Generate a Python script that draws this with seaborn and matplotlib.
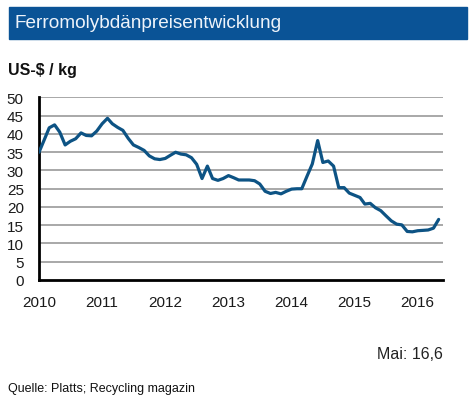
import pandas as pd
import seaborn as sns
import matplotlib.pyplot as plt
from matplotlib.patches import Rectangle

# monthly ferromolybdenum price, US-$/kg, Jan 2010 - May 2016
price_2010 = [35.0, 38.5, 41.7, 42.5, 40.5, 37.0, 38.0, 38.7, 40.3, 39.6, 39.5, 40.8]
price_2011 = [42.8, 44.3, 42.8, 41.8, 41.0, 38.8, 37.0, 36.3, 35.5, 34.0, 33.2, 33.0]
price_2012 = [33.3, 34.2, 35.0, 34.5, 34.3, 33.5, 31.7, 27.8, 31.2, 27.8, 27.3, 27.8]
price_2013 = [28.6, 28.0, 27.4, 27.4, 27.4, 27.2, 26.3, 24.3, 23.7, 24.0, 23.6, 24.3]
price_2014 = [24.9, 25.0, 25.0, 28.5, 31.8, 38.2, 32.2, 32.6, 31.2, 25.3, 25.3, 23.8]
price_2015 = [23.2, 22.6, 20.8, 21.0, 19.8, 19.0, 17.6, 16.2, 15.3, 15.1, 13.3, 13.2]
price_2016 = [13.5, 13.6, 13.7, 14.2, 16.6]

prices = price_2010 + price_2011 + price_2012 + price_2013 + price_2014 + price_2015 + price_2016
tick_years = ['2010', '2011', '2012', '2013', '2014', '2015', '2016']
y_ticks = [0, 5, 10, 15, 20, 25, 30, 35, 40, 45, 50]

df = pd.DataFrame({'date': pd.date_range('2010-01-01', periods=len(prices), freq='MS'),
                   'price': prices})

sns.set_style('white')
plt.rcParams['font.family'] = ['Liberation Sans', 'DejaVu Sans']

fig = plt.figure(figsize=(4.76, 4.02), dpi=100)
ax = fig.add_axes([0.082, 0.301, 0.849, 0.454])

# grid behind the line
for v in y_ticks[1:]:
    ax.axhline(v, color='#a8a8a8', lw=1.4, zorder=1)

sns.lineplot(data=df, x='date', y='price', ax=ax, color='#0d5384', lw=2.3, zorder=3)

ax.set_ylim(0, 50)
ax.set_xlim(pd.Timestamp('2010-01-01'), pd.Timestamp('2016-05-27'))
ax.set_yticks(y_ticks)
ax.set_yticklabels([str(v) for v in y_ticks], fontsize=11, color='#1a1a1a')
ax.set_xticks([pd.Timestamp(y + '-01-01') for y in tick_years])
ax.set_xticklabels(tick_years, fontsize=11, color='#1a1a1a')
ax.tick_params(axis='both', direction='out', length=5, width=1.5, color='black', pad=6)
ax.set_xlabel('')
ax.set_ylabel('')

for side in ['top', 'right']:
    ax.spines[side].set_visible(False)
for side in ['left', 'bottom']:
    ax.spines[side].set_color('black')
    ax.spines[side].set_linewidth(2)

# title banner
fig.patches.append(Rectangle((9 / 476, 1 - 40 / 402), 458 / 476, 32 / 402,
                             transform=fig.transFigure, color='#0a5396', zorder=0))
fig.text(15 / 476, 1 - 24 / 402, 'Ferromolybdänpreisentwicklung', color='#eef3fa',
         fontsize=13.7, va='center', ha='left')

fig.text(8 / 476, 1 - 70 / 402, 'US-$ / kg', fontsize=11.5, fontweight='bold',
         color='#111111', va='center', ha='left')
fig.text(443 / 476, 1 - 355 / 402, 'Mai: 16,6', fontsize=11.5, color='#222222',
         va='center', ha='right')
fig.text(8 / 476, 1 - 389 / 402, 'Quelle: Platts; Recycling magazin', fontsize=9,
         color='#111111', va='center', ha='left')

fig.savefig('out.png', dpi=100)
